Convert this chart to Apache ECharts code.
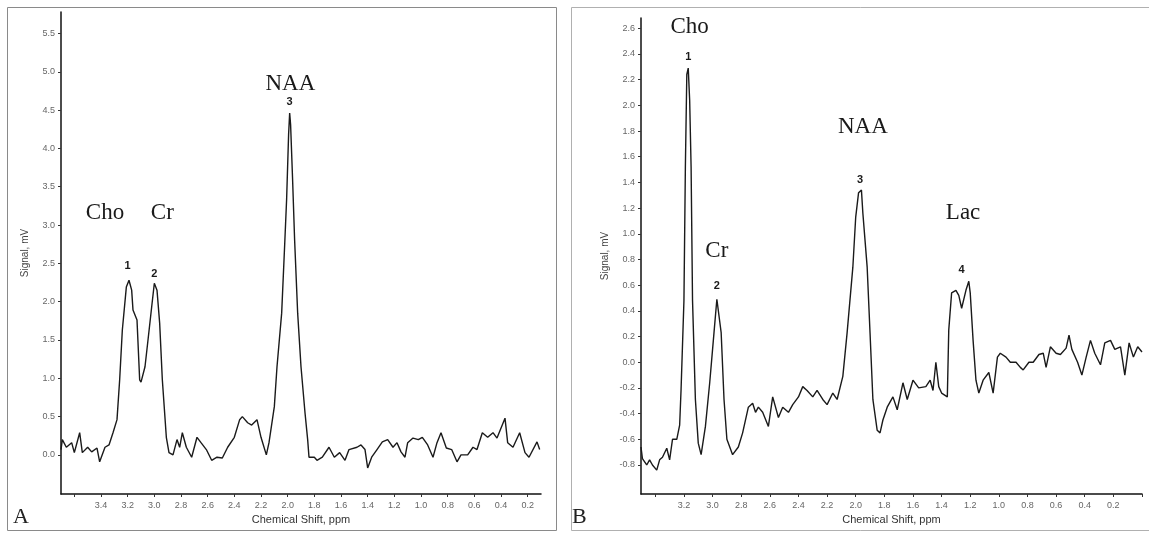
<!DOCTYPE html>
<html><head><meta charset="utf-8">
<script src="https://cdn.jsdelivr.net/npm/echarts@6/dist/echarts.min.js"></script>
<style>html,body{margin:0;padding:0;background:#fff}#c{width:1149px;height:533px}</style>
</head><body><div id="c"></div>
<script>
// ---- Panel A data (chemical shift ppm, signal mV) ----
const leftPpm = [3.70,3.69,3.66,3.62,3.60,3.56,3.54,3.50,3.47,3.43,3.41,3.37,3.34,3.31,3.28,3.26,3.24,3.21,3.19,3.17,3.16,3.13,3.11,3.10,3.07,3.05,3.02,3.00,2.98,2.96,2.94,2.91,2.89,2.86,2.83,2.81,2.79,2.76,2.72,2.68,2.65,2.61,2.57,2.53,2.49,2.45,2.40,2.36,2.34,2.30,2.27,2.23,2.20,2.16,2.14,2.10,2.08,2.045,2.023,2.008,1.993,1.985,1.978,1.963,1.948,1.925,1.90,1.87,1.85,1.84,1.80,1.78,1.74,1.69,1.65,1.61,1.57,1.54,1.48,1.45,1.42,1.40,1.37,1.33,1.29,1.25,1.21,1.18,1.15,1.12,1.10,1.06,1.02,0.99,0.95,0.91,0.88,0.85,0.81,0.77,0.73,0.70,0.65,0.61,0.58,0.54,0.50,0.46,0.43,0.37,0.35,0.31,0.26,0.22,0.19,0.13,0.11];
const leftSignal = [0.07,0.20,0.10,0.16,0.03,0.29,0.03,0.10,0.04,0.09,-0.09,0.10,0.13,0.29,0.46,0.98,1.63,2.19,2.28,2.15,1.89,1.76,0.98,0.95,1.15,1.46,1.93,2.24,2.15,1.72,0.98,0.23,0.03,0.00,0.20,0.10,0.29,0.10,-0.03,0.23,0.16,0.07,-0.07,-0.03,-0.04,0.10,0.23,0.46,0.50,0.42,0.39,0.46,0.23,0.00,0.16,0.63,1.15,1.85,2.72,3.33,4.18,4.46,4.31,3.59,2.81,1.85,1.15,0.55,0.20,-0.03,-0.03,-0.07,-0.03,0.10,-0.03,0.03,-0.07,0.07,0.10,0.13,0.07,-0.17,-0.03,0.07,0.17,0.20,0.10,0.16,0.04,-0.03,0.16,0.22,0.20,0.23,0.13,-0.03,0.16,0.29,0.09,0.07,-0.09,0.00,0.00,0.10,0.07,0.29,0.23,0.29,0.22,0.48,0.16,0.10,0.29,0.03,-0.03,0.17,0.07];

// ---- Panel B data ----
const rightPpm = [3.50,3.49,3.46,3.44,3.42,3.39,3.37,3.35,3.32,3.30,3.28,3.25,3.23,3.22,3.20,3.19,3.18,3.17,3.16,3.15,3.14,3.12,3.10,3.08,3.05,3.02,2.99,2.97,2.96,2.94,2.92,2.90,2.86,2.82,2.79,2.75,2.72,2.70,2.68,2.65,2.61,2.58,2.54,2.51,2.47,2.44,2.40,2.37,2.34,2.30,2.27,2.23,2.20,2.16,2.13,2.09,2.06,2.02,2.00,1.98,1.96,1.95,1.92,1.90,1.88,1.85,1.83,1.81,1.78,1.74,1.71,1.67,1.64,1.60,1.56,1.51,1.48,1.46,1.44,1.42,1.40,1.36,1.35,1.33,1.30,1.28,1.26,1.23,1.21,1.20,1.18,1.16,1.14,1.11,1.07,1.04,1.01,0.99,0.95,0.92,0.88,0.85,0.83,0.79,0.76,0.72,0.69,0.67,0.64,0.60,0.57,0.53,0.51,0.49,0.45,0.42,0.39,0.36,0.33,0.29,0.26,0.22,0.19,0.15,0.12,0.09,0.06,0.03,0.00];
const rightSignal = [-0.66,-0.75,-0.80,-0.76,-0.80,-0.84,-0.76,-0.74,-0.67,-0.76,-0.60,-0.60,-0.49,-0.21,0.48,1.52,2.24,2.29,2.04,1.52,0.48,-0.29,-0.63,-0.72,-0.50,-0.16,0.23,0.49,0.49,0.23,-0.29,-0.60,-0.72,-0.66,-0.55,-0.35,-0.32,-0.39,-0.35,-0.39,-0.50,-0.27,-0.43,-0.35,-0.39,-0.33,-0.27,-0.19,-0.22,-0.27,-0.22,-0.29,-0.33,-0.24,-0.29,-0.11,0.23,0.74,1.13,1.32,1.34,1.16,0.74,0.23,-0.29,-0.53,-0.55,-0.45,-0.35,-0.27,-0.37,-0.16,-0.29,-0.14,-0.20,-0.19,-0.14,-0.22,0.00,-0.19,-0.24,-0.27,0.25,0.54,0.56,0.52,0.42,0.56,0.63,0.54,0.17,-0.14,-0.24,-0.14,-0.08,-0.24,0.04,0.07,0.04,0.00,0.00,-0.04,-0.06,0.00,0.00,0.06,0.07,-0.04,0.12,0.07,0.06,0.11,0.21,0.10,0.00,-0.10,0.04,0.17,0.07,-0.02,0.15,0.17,0.10,0.12,-0.10,0.15,0.04,0.12,0.08];

// ---- Tick values ----
const leftXTicks = [3.6,3.4,3.2,3.0,2.8,2.6,2.4,2.2,2.0,1.8,1.6,1.4,1.2,1.0,0.8,0.6,0.4,0.2];
const leftXLabels = [3.4,3.2,3.0,2.8,2.6,2.4,2.2,2.0,1.8,1.6,1.4,1.2,1.0,0.8,0.6,0.4,0.2];
const leftYLabels = [0.0,0.5,1.0,1.5,2.0,2.5,3.0,3.5,4.0,4.5,5.0,5.5];
const rightXTicks = [3.4,3.2,3.0,2.8,2.6,2.4,2.2,2.0,1.8,1.6,1.4,1.2,1.0,0.8,0.6,0.4,0.2,0.0];
const rightXLabels = [3.2,3.0,2.8,2.6,2.4,2.2,2.0,1.8,1.6,1.4,1.2,1.0,0.8,0.6,0.4,0.2];
const rightYLabels = [-0.8,-0.6,-0.4,-0.2,0.0,0.2,0.4,0.6,0.8,1.0,1.2,1.4,1.6,1.8,2.0,2.2,2.4,2.6];

// ---- Annotations: [text, ppm, signal, kind] ----
const leftNotes = [['Cho',3.37,3.16,'m'],['Cr',2.94,3.16,'m'],['NAA',1.98,4.84,'m'],['1',3.20,2.47,'n'],['2',3.00,2.36,'n'],['3',1.985,4.61,'n']];
const rightNotes = [['Cho',3.16,2.61,'m'],['1',3.17,2.38,'n'],['Cr',2.97,0.87,'m'],['2',2.97,0.59,'n'],['NAA',1.95,1.83,'m'],['3',1.97,1.42,'n'],['Lac',1.25,1.16,'m'],['4',1.26,0.72,'n']];

const zip = (a,b) => a.map((v,i)=>[v,b[i]]);
const fmt = v => Number(v).toFixed(1);
const sans = 'Liberation Sans';
const serif = 'Liberation Serif';

function notes(list){
  return list.map(n => ({
    name: n[0], coord: [n[1], n[2]],
    label: n[3]==='m'
      ? {fontFamily: serif, fontSize: 23, color: '#1a1a1a'}
      : {fontFamily: sans, fontSize: 11, fontWeight: 'bold', color: '#1a1a1a'}
  }));
}

function xAx(idx, min, max, ticks, labels){
  return {type:'value', gridIndex: idx, inverse: true, min, max,
    name: 'Chemical Shift, ppm', nameLocation: 'middle', nameGap: 20,
    nameTextStyle: {fontFamily: sans, fontSize: 11, color: '#333'},
    axisLine: {onZero: false, lineStyle: {color: '#111', width: 1.5}},
    axisTick: {show: true, customValues: ticks, length: 3, lineStyle: {color: '#333'}},
    axisLabel: {customValues: labels, formatter: fmt, fontFamily: sans, fontSize: 9, color: '#666', margin: 7},
    splitLine: {show: false}};
}
function yAx(idx, min, max, labels){
  return {type:'value', gridIndex: idx, min, max,
    name: 'Signal, mV', nameLocation: 'middle', nameGap: 31, nameRotate: 90,
    nameTextStyle: {fontFamily: sans, fontSize: 10, color: '#444'},
    axisLine: {show: true, onZero: false, lineStyle: {color: '#111', width: 1.5}},
    axisTick: {show: true, customValues: labels, length: 3, lineStyle: {color: '#333'}},
    axisLabel: {customValues: labels, formatter: fmt, fontFamily: sans, fontSize: 9, color: '#666', margin: 6},
    splitLine: {show: false}};
}

const chart = echarts.init(document.getElementById('c'), null, {renderer: 'canvas'});
chart.setOption({
  animation: false,
  backgroundColor: '#fff',
  grid: [
    {left: 61, right: 608, top: 12, bottom: 39},
    {left: 641, right: 7, top: 18, bottom: 39}
  ],
  xAxis: [xAx(0, 0.10, 3.70, leftXTicks, leftXLabels), xAx(1, 0.0, 3.50, rightXTicks, rightXLabels)],
  yAxis: [yAx(0, -0.51, 5.78, leftYLabels), yAx(1, -1.026, 2.68, rightYLabels)],
  series: [
    {type: 'line', xAxisIndex: 0, yAxisIndex: 0, data: zip(leftPpm, leftSignal), showSymbol: false,
     lineStyle: {color: '#1a1a1a', width: 1.4},
     markPoint: {symbol: 'rect', symbolSize: 1, itemStyle: {color: 'rgba(0,0,0,0)'},
       label: {show: true, position: 'inside', formatter: p => p.name}, data: notes(leftNotes)}},
    {type: 'line', xAxisIndex: 1, yAxisIndex: 1, data: zip(rightPpm, rightSignal), showSymbol: false,
     lineStyle: {color: '#1a1a1a', width: 1.4},
     markPoint: {symbol: 'rect', symbolSize: 1, itemStyle: {color: 'rgba(0,0,0,0)'},
       label: {show: true, position: 'inside', formatter: p => p.name}, data: notes(rightNotes)}}
  ],
  graphic: [
    {type: 'rect', shape: {x: 7.5, y: 7.5, width: 549, height: 523}, style: {fill: null, stroke: '#8a8a8a', lineWidth: 1}, silent: true, z: -1},
    {type: 'rect', shape: {x: 571.5, y: 7.5, width: 590, height: 523}, style: {fill: null, stroke: '#b0b0b0', lineWidth: 1}, silent: true, z: -1},
    {type: 'text', left: 13, top: 506, style: {text: 'A', fontFamily: serif, fontSize: 22, fill: '#222'}},
    {type: 'text', left: 572, top: 506, style: {text: 'B', fontFamily: serif, fontSize: 22, fill: '#222'}}
  ]
});
</script></body></html>
